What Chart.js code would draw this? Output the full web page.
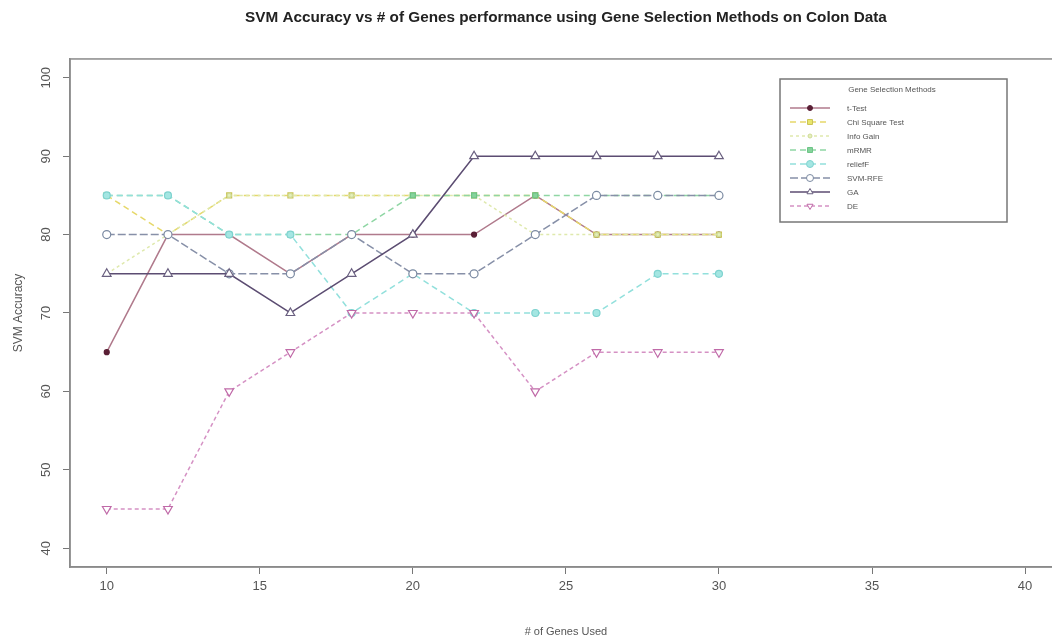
<!DOCTYPE html>
<html>
<head>
<meta charset="utf-8">
<script src="https://cdn.jsdelivr.net/npm/chart.js@4.4.1/dist/chart.umd.min.js"></script>
<style>
  html, body { margin: 0; padding: 0; background: #fff; overflow: hidden; }
  canvas { display: block; }
</style>
</head>
<body>
<canvas id="myChart" width="1068" height="643"></canvas>
<script>
const ctx = document.getElementById("myChart");

// data
const genesUsed = [10, 12, 14, 16, 18, 20, 22, 24, 26, 28, 30];
const tTest     = [65, 80, 80, 75, 80, 80, 80, 85, 80, 80, 80];
const chiSquare = [85, 80, 85, 85, 85, 85, 85, 85, 80, 80, 80];
const infoGain  = [75, 80, 85, 85, 85, 85, 85, 80, 80, 80, 80];
const mRMR      = [85, 85, 80, 80, 80, 85, 85, 85, 85, 85, 85];
const reliefF   = [85, 85, 80, 80, 70, 75, 70, 70, 70, 75, 75];
const svmRFE    = [80, 80, 75, 75, 80, 75, 75, 80, 85, 85, 85];
const gaAcc     = [75, 75, 75, 70, 75, 80, 90, 90, 90, 90, 90];
const deAcc     = [45, 45, 60, 65, 70, 70, 70, 60, 65, 65, 65];

const methodNames = ["t-Test", "Chi Square Test", "Info Gain", "mRMR", "reliefF", "SVM-RFE", "GA", "DE"];
const xTickValues = [10, 15, 20, 25, 30, 35, 40];
const yTickValues = [40, 50, 60, 70, 80, 90, 100];

const seriesValues = [tTest, chiSquare, infoGain, mRMR, reliefF, svmRFE, gaAcc, deAcc];

// styles
const lineColors  = ["#b07a8c", "#e6d86a", "#dfe9ad", "#8fd6a4", "#92e0dc", "#8790a8", "#5c4d72", "#d591c4"];
const pointFills  = ["#5a1f35", "#e9e66e", "#e6efbc", "#86d39c", "#a4e6e2", "#ffffff", "#ffffff", "#ffffff"];
const pointEdges  = ["#5a1f35", "#c9c256", "#cfdc98", "#6cc486", "#7fd3d0", "#7b8aa2", "#6a6080", "#c06aa8"];
const pointShapes = ["circle", "rect", "circle", "rect", "circle", "circle", "triangle", "triangle"];
const pointSizes  = [2.5, 3.5, 2, 3.5, 3.5, 4, 5, 5];
const pointRots   = [0, 0, 0, 0, 0, 0, 0, 180];
const dashes      = [[], [6, 4], [3, 3], [6, 4], [6, 4], [8, 3], [], [4, 3]];

const datasets = methodNames.map((name, i) => ({
  label: name,
  data: genesUsed.map((g, j) => ({ x: g, y: seriesValues[i][j] })),
  borderColor: lineColors[i],
  borderWidth: 1.5,
  borderDash: dashes[i],
  backgroundColor: pointFills[i],
  pointBackgroundColor: pointFills[i],
  pointBorderColor: pointEdges[i],
  pointBorderWidth: 1.2,
  pointStyle: pointShapes[i],
  pointRadius: pointSizes[i],
  pointRotation: pointRots[i],
  tension: 0,
  fill: false,
  order: methodNames.length - i,
}));

const frameColor = "#8a8a8a";

// box round the plot, rotated y labels, legend in the corner
const extrasPlugin = {
  id: "extras",
  afterDraw(chart) {
    const c = chart.ctx;
    const a = chart.chartArea;
    c.save();
    c.strokeStyle = frameColor;
    c.lineWidth = 1.5;
    c.strokeRect(a.left, a.top, a.right - a.left, a.bottom - a.top);

    // y tick labels, vertical like R
    const ys = chart.scales.y;
    c.font = '13px "Liberation Sans", Arial, sans-serif';
    c.fillStyle = "#555";
    c.textAlign = "center";
    c.textBaseline = "middle";
    yTickValues.forEach((v) => {
      c.save();
      c.translate(46, ys.getPixelForValue(v));
      c.rotate(-Math.PI / 2);
      c.fillText(String(v), 0, 0);
      c.restore();
    });

    // legend
    const lx = 780, ly = 79, lw = 227, lh = 143;
    c.fillStyle = "#fff";
    c.fillRect(lx, ly, lw, lh);
    c.strokeStyle = "#777";
    c.lineWidth = 1.5;
    c.strokeRect(lx, ly, lw, lh);
    c.font = '8px "Liberation Sans", Arial, sans-serif';
    c.fillStyle = "#555";
    c.textAlign = "center";
    c.fillText("Gene Selection Methods", lx + 112, ly + 11);
    c.textAlign = "left";
    chart.data.datasets.forEach((ds, i) => {
      const y = ly + 29 + i * 14;
      c.save();
      c.strokeStyle = ds.borderColor;
      c.lineWidth = 1.5;
      c.setLineDash(ds.borderDash);
      c.beginPath();
      c.moveTo(lx + 10, y);
      c.lineTo(lx + 50, y);
      c.stroke();
      c.setLineDash([]);
      c.fillStyle = ds.pointBackgroundColor;
      c.strokeStyle = ds.pointBorderColor;
      c.lineWidth = 1;
      Chart.helpers.drawPoint(c, {
        pointStyle: ds.pointStyle,
        radius: Math.min(ds.pointRadius, 3.5),
        rotation: ds.pointRotation,
        borderWidth: 1,
      }, lx + 30, y);
      c.restore();
      c.fillStyle = "#555";
      c.fillText(ds.label, lx + 67, y + 1);
    });
    c.restore();
  },
};

new Chart(ctx, {
  type: "line",
  data: { datasets: datasets },
  plugins: [extrasPlugin],
  options: {
    responsive: false,
    animation: false,
    devicePixelRatio: 1,
    layout: { padding: 0 },
    plugins: {
      legend: { display: false },
      tooltip: { enabled: false },
      title: {
        display: true,
        fullSize: false,
        text: "SVM Accuracy vs # of Genes performance using Gene Selection Methods on Colon Data",
        color: "#222",
        font: { size: 15.3, weight: "bold", family: '"Liberation Sans", Arial, sans-serif' },
        padding: { top: 9, bottom: 31.6 },
      },
    },
    scales: {
      x: {
        type: "linear",
        min: 8.8,
        max: 41.2,
        afterBuildTicks: (s) => { s.ticks = xTickValues.map((v) => ({ value: v })); },
        afterFit: (s) => { s.height = 76; },
        grid: { drawOnChartArea: false, drawTicks: true, tickLength: 7, color: "#777", lineWidth: 1 },
        border: { color: frameColor, width: 1.5 },
        ticks: {
          color: "#555",
          maxRotation: 0,
          padding: 5,
          font: { size: 13, family: '"Liberation Sans", Arial, sans-serif' },
        },
        title: {
          display: true,
          text: "# of Genes Used",
          color: "#555",
          font: { size: 11, family: '"Liberation Sans", Arial, sans-serif' },
          padding: { top: 4, bottom: 4 },
        },
      },
      y: {
        type: "linear",
        min: 37.6,
        max: 102.4,
        afterBuildTicks: (s) => { s.ticks = yTickValues.map((v) => ({ value: v })); },
        afterFit: (s) => { s.width = 70; },
        grid: { drawOnChartArea: false, drawTicks: true, tickLength: 7, color: "#777", lineWidth: 1 },
        border: { color: frameColor, width: 1.5 },
        ticks: { display: false },
        title: {
          display: true,
          text: "SVM Accuracy",
          color: "#555",
          font: { size: 12, family: '"Liberation Sans", Arial, sans-serif' },
          padding: { top: 11, bottom: 0 },
        },
      },
    },
  },
});
</script>
</body>
</html>
